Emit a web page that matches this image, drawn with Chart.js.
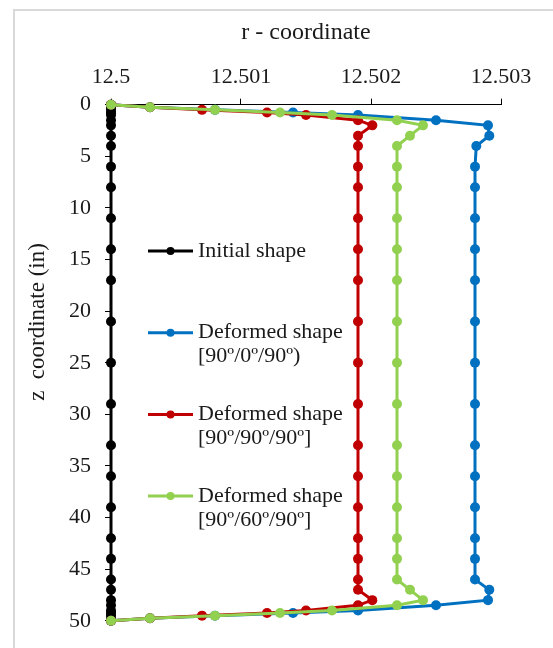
<!DOCTYPE html>
<html>
<head>
<meta charset="utf-8">
<script src="https://cdn.jsdelivr.net/npm/chart.js@4.4.0/dist/chart.umd.min.js"></script>
<style>
  html, body { margin: 0; padding: 0; background: #fff; overflow: hidden; }
  #frame { position: absolute; left: 13px; top: 9px; width: 600px; height: 700px; border: 2px solid #d9d9d9; }
  #plot { position: absolute; left: 0; top: 0; }
</style>
</head>
<body>
<div id="frame"></div>
<canvas id="plot" width="553" height="648"></canvas>
<script>
// node positions along the wall, z (in)
const zNodes = [0, 0.25, 0.5, 0.75, 1, 1.5, 2, 3, 4, 6, 8, 11, 14, 17, 21, 25,
  29, 33, 36, 39, 42, 44, 46, 47, 48, 48.5, 49, 49.25, 49.5, 49.75, 50];

// radial coordinate of each node
const rInitial = [12.5, 12.5, 12.5, 12.5, 12.5, 12.5, 12.5, 12.5, 12.5, 12.5, 12.5,
  12.5, 12.5, 12.5, 12.5, 12.5, 12.5, 12.5, 12.5, 12.5, 12.5, 12.5, 12.5, 12.5,
  12.5, 12.5, 12.5, 12.5, 12.5, 12.5, 12.5];
const r90_0_90 = [12.5, 12.5003, 12.5008, 12.5014, 12.5019, 12.5025, 12.5029, 12.50291, 12.50281,
  12.5028, 12.5028, 12.5028, 12.5028, 12.5028, 12.5028, 12.5028, 12.5028, 12.5028, 12.5028,
  12.5028, 12.5028, 12.5028, 12.5028,
  12.50291, 12.5029, 12.5025, 12.5019, 12.5014, 12.5008, 12.5003, 12.5];
const r90_90_90 = [12.5, 12.5003, 12.5007, 12.5012, 12.5015, 12.5019, 12.50201, 12.5019, 12.5019,
  12.5019, 12.5019, 12.5019, 12.5019, 12.5019, 12.5019, 12.5019, 12.5019, 12.5019, 12.5019,
  12.5019, 12.5019, 12.5019, 12.5019,
  12.5019, 12.50201, 12.5019, 12.5015, 12.5012, 12.5007, 12.5003, 12.5];
const r90_60_90 = [12.5, 12.5003, 12.5008, 12.5013, 12.5017, 12.5022, 12.5024, 12.5023, 12.5022,
  12.5022, 12.5022, 12.5022, 12.5022, 12.5022, 12.5022, 12.5022, 12.5022, 12.5022, 12.5022,
  12.5022, 12.5022, 12.5022, 12.5022,
  12.5023, 12.5024, 12.5022, 12.5017, 12.5013, 12.5008, 12.5003, 12.5];

const xTickValues = [12.5, 12.501, 12.502, 12.503];
const xTickLabels = ['12.5', '12.501', '12.502', '12.503'];
const yTickValues = [0, 5, 10, 15, 20, 25, 30, 35, 40, 45, 50];
const yTickLabels = ['0', '5', '10', '15', '20', '25', '30', '35', '40', '45', '50'];

const serif = '"Liberation Serif", "Times New Roman", serif';

function profile(rValues) {
  return zNodes.map((z, i) => ({ x: rValues[i], y: z }));
}

function series(label, rValues, color, order) {
  return {
    label: label,
    data: profile(rValues),
    showLine: true,
    borderColor: color,
    backgroundColor: color,
    borderWidth: 3,
    pointRadius: 5,
    pointBorderWidth: 0,
    pointHoverRadius: 5,
    tension: 0,
    clip: false,
    order: order
  };
}

// legend drawn inside the plot, one entry per dataset, labels may span two lines
const insideLegend = {
  id: 'insideLegend',
  afterDraw(chart, args, opts) {
    const ctx = chart.ctx;
    ctx.save();
    ctx.font = opts.size + 'px ' + serif;
    ctx.textBaseline = 'middle';
    ctx.textAlign = 'left';
    chart.data.datasets.forEach((ds, i) => {
      const y = opts.top + i * opts.spacing;
      ctx.strokeStyle = ds.borderColor;
      ctx.lineWidth = 3;
      ctx.beginPath();
      ctx.moveTo(opts.left, y);
      ctx.lineTo(opts.left + opts.lineLength, y);
      ctx.stroke();
      ctx.fillStyle = ds.borderColor;
      ctx.beginPath();
      ctx.arc(opts.left + opts.lineLength / 2, y, 4, 0, Math.PI * 2);
      ctx.fill();
      ctx.fillStyle = opts.color;
      [].concat(ds.label).forEach((t, k) => {
        ctx.fillText(t, opts.left + opts.lineLength + 5, y + k * opts.lineHeight);
      });
    });
    ctx.restore();
  }
};

// vertical axis title, placed a bit above the middle of the axis
const sideTitle = {
  id: 'sideTitle',
  afterDraw(chart, args, opts) {
    const ctx = chart.ctx;
    ctx.save();
    ctx.translate(opts.x, opts.y);
    ctx.rotate(-Math.PI / 2);
    ctx.font = opts.size + 'px ' + serif;
    ctx.fillStyle = opts.color;
    ctx.textAlign = 'center';
    ctx.textBaseline = 'middle';
    ctx.fillText(opts.text, 0, 0);
    ctx.restore();
  }
};

const ctx = document.getElementById('plot').getContext('2d');

new Chart(ctx, {
  type: 'scatter',
  data: {
    datasets: [
      series('Initial shape', rInitial, '#000000', 3),
      series(['Deformed shape', '[90º/0º/90º)'], r90_0_90, '#0070C0', 2),
      series(['Deformed shape', '[90º/90º/90º]'], r90_90_90, '#C00000', 1),
      series(['Deformed shape', '[90º/60º/90º]'], r90_60_90, '#92D050', 0)
    ]
  },
  options: {
    responsive: false,
    animation: false,
    devicePixelRatio: 1,
    layout: { padding: { left: 14, top: 10, right: 52, bottom: 15 } },
    plugins: {
      legend: { display: false },
      tooltip: { enabled: false },
      insideLegend: { left: 148, top: 251, spacing: 81.7, lineLength: 45, lineHeight: 24, size: 22, color: '#1a1a1a' },
      sideTitle: { text: 'z  coordinate (in)', x: 37.5, y: 322, size: 23, color: '#1a1a1a' }
    },
    scales: {
      x: {
        type: 'linear',
        position: 'top',
        min: 12.5,
        max: 12.503,
        afterBuildTicks: scale => { scale.ticks = xTickValues.map(v => ({ value: v })); },
        afterFit: scale => { scale.height = 94.7; },
        ticks: {
          autoSkip: false,
          maxRotation: 0,
          padding: 8,
          color: '#1a1a1a',
          font: { family: serif, size: 22 },
          callback: (v, i) => xTickLabels[i]
        },
        grid: { drawOnChartArea: false, drawTicks: true, tickLength: 6, color: '#000' },
        border: { display: true, color: '#000', width: 1 },
        title: {
          display: true,
          text: 'r - coordinate',
          color: '#1a1a1a',
          font: { family: serif, size: 24 },
          padding: { top: 8.6, bottom: 0 }
        }
      },
      y: {
        type: 'linear',
        reverse: true,
        min: 0,
        max: 50,
        afterBuildTicks: scale => { scale.ticks = yTickValues.map(v => ({ value: v })); },
        afterFit: scale => { scale.width = 97; },
        ticks: {
          autoSkip: false,
          padding: 14,
          color: '#1a1a1a',
          font: { family: serif, size: 22 },
          callback: (v, i) => yTickLabels[i]
        },
        grid: { drawOnChartArea: false, drawTicks: true, tickLength: 6, color: '#000' },
        border: { display: true, color: '#000', width: 1 }
      }
    }
  },
  plugins: [insideLegend, sideTitle]
});
</script>
</body>
</html>
